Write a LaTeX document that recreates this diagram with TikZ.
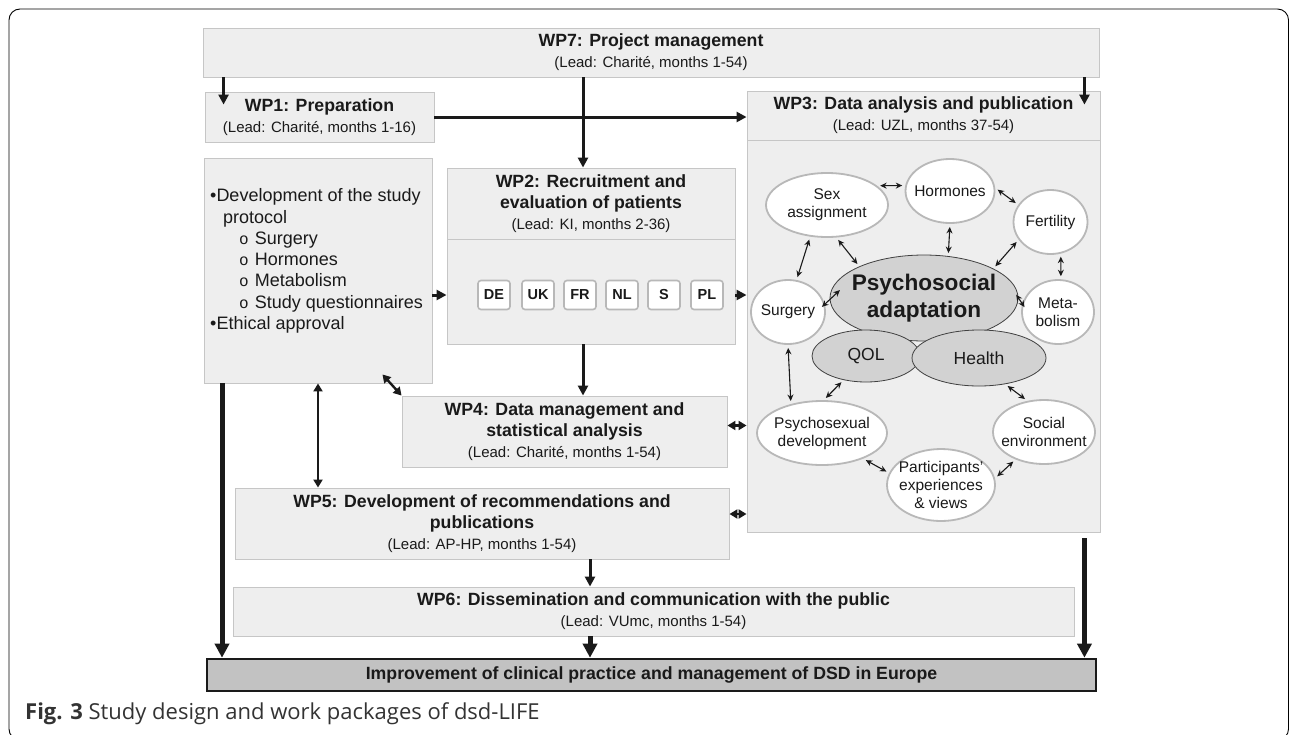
\documentclass[tikz,border=0pt]{standalone}
\usepackage{fontspec}
\setmainfont{Liberation Sans}
\newfontfamily\capfont{Open Sans}
\newfontfamily\ringfont{Liberation Mono}
\usetikzlibrary{shapes.geometric,arrows.meta,shadows}

\definecolor{boxfill}{HTML}{EEEEEE}
\definecolor{boxline}{HTML}{C6C6C6}
\definecolor{ringgray}{HTML}{B8B8B8}
\definecolor{coregray}{HTML}{D2D2D2}
\definecolor{goalfill}{HTML}{C2C2C2}
\definecolor{ink}{HTML}{1A1A1A}

\newcommand\wpfont{\fontsize{17.7}{21}\selectfont\bfseries}
\newcommand\lead[1]{{\fontsize{15}{21}\selectfont\mdseries #1}}
\newcommand\ringitem[1]{\hspace*{29pt}{\ringfont\fontsize{16}{21}\selectfont o}\hspace*{6pt}#1}

\tikzset{
  pkg/.style={draw=boxline, line width=0.9pt, fill=boxfill, inner sep=0pt,
    align=center, text=ink, font=\wpfont,
    drop shadow={shadow xshift=1.2pt, shadow yshift=-1.2pt, opacity=0.25, fill=black!60}},
  country/.style={draw=ringgray, line width=1.6pt, rounded corners=3pt, fill=white,
    minimum width=32pt, minimum height=29pt, inner sep=0pt,
    font=\fontsize{14.5}{16}\selectfont\bfseries, text=ink},
  topic/.style={ellipse, draw=ringgray, line width=1.8pt, fill=white, inner sep=-8pt,
    align=center, text=ink, font=\fontsize{15.5}{18}\selectfont},
  core/.style={ellipse, draw=black!75, line width=0.8pt, fill=coregray, inner sep=-8pt,
    align=center, text=ink, font=\fontsize{17.5}{21}\selectfont},
  flow/.style={line width=3pt, draw=ink, -{Triangle[length=10pt,width=10pt]}},
  bigflow/.style={line width=5pt, draw=ink, -{Triangle[length=14pt,width=14pt]}},
  both/.style={line width=2.4pt, draw=ink,
    {Triangle[length=8pt,width=9pt]}-{Triangle[length=8pt,width=9pt]}},
  link/.style={line width=1.1pt, draw=ink,
    {Stealth[length=6.5pt,width=6pt]}-{Stealth[length=6.5pt,width=6pt]},
    shorten <=3pt, shorten >=3pt},
}

\begin{document}
\begin{tikzpicture}[x=1pt,y=-1pt]
  \useasboundingbox (0,0) rectangle (1290,734);
  \draw [line width=0.9pt, rounded corners=11pt] (9,9) rectangle (1288.5,740);

  % work packages
  \node (wp7) [pkg, minimum width=896pt, minimum height=49pt] at (651,52.5)
    {WP7: Project management\\ \lead{(Lead: Charité, months 1-54)}};
  \node (wp1) [pkg, minimum width=229pt, minimum height=50pt] at (319.5,117)
    {WP1: Preparation\\ \lead{(Lead: Charité, months 1-16)}};
  \node (wp3b) [pkg, minimum width=353pt, minimum height=392pt] at (923.5,336) {};
  \node (wp3) [pkg, minimum width=353pt, minimum height=49pt] at (923.5,115.5)
    {WP3: Data analysis and publication\\ \lead{(Lead: UZL, months 37-54)}};
  \node (prep) [pkg, minimum width=228pt, minimum height=225pt] at (318,270.5) {};
  \node (preptext) [anchor=west, inner sep=0pt, align=left, text=ink,
    font=\fontsize{18}{21.3}\selectfont] at (210,261)
    {\textbullet Development of the study\\
     \hspace*{13pt}protocol\\
     \ringitem{Surgery}\\
     \ringitem{Hormones}\\
     \ringitem{Metabolism}\\
     \ringitem{Study questionnaires}\\
     \textbullet Ethical approval};
  \node (wp2b) [pkg, minimum width=288pt, minimum height=105pt] at (591,291.5) {};
  \node (wp2) [pkg, minimum width=288pt, minimum height=71pt] at (591,203.5)
    {WP2: Recruitment and\\ evaluation of patients\\ \lead{(Lead: KI, months 2-36)}};
  \node (wp4) [pkg, minimum width=325pt, minimum height=71pt] at (564.5,431.5)
    {WP4: Data management and\\ statistical analysis\\ \lead{(Lead: Charité, months 1-54)}};
  \node (wp5) [pkg, minimum width=494pt, minimum height=71pt] at (482,523.5)
    {WP5: Development of recommendations and\\ publications\\ \lead{(Lead: AP-HP, months 1-54)}};
  \node (wp6) [pkg, minimum width=841pt, minimum height=49pt] at (653.5,611.5)
    {WP6: Dissemination and communication with the public\\ \lead{(Lead: VUmc, months 1-54)}};
  \node (dsd) [draw=ink, line width=2.6pt, fill=goalfill, minimum width=889pt,
    minimum height=32pt, inner sep=0pt, text=ink, font=\wpfont] at (651.5,675)
    {Improvement of clinical practice and management of DSD in Europe};

  % recruiting centres
  \node (c1) [country] at (494,295) {DE};
  \node (c2) [country] at (538,295) {UK};
  \node (c3) [country] at (580,295) {FR};
  \node (c4) [country] at (622,295) {NL};
  \node (c5) [country] at (664,295) {S};
  \node (c6) [country] at (707,295) {PL};

  % analysis topics
  \node (sex) [topic, minimum width=122pt, minimum height=64pt] at (827,205) {Sex\\assignment};
  \node (horm) [topic, minimum width=89pt, minimum height=64pt] at (950,191) {Hormones};
  \node (fert) [topic, minimum width=74pt, minimum height=64pt] at (1050.5,222) {Fertility};
  \node (psych) [core, minimum width=188pt, minimum height=86pt,
    font=\fontsize{22.6}{27}\selectfont\bfseries] at (924,298) {Psychosocial\\adaptation};
  \node (surg) [topic, minimum width=74pt, minimum height=64pt] at (788,312) {Surgery};
  \node (metab) [topic, minimum width=72pt, minimum height=64pt] at (1058,312) {Meta-\\bolism};
  \node (qol) [core, minimum width=108pt, minimum height=52pt] at (866,356) {QOL};
  \node (health) [core, minimum width=134pt, minimum height=56pt] at (979,358) {Health};
  \node (psex) [topic, minimum width=130pt, minimum height=64pt] at (822,433) {Psychosexual\\development};
  \node (social) [topic, minimum width=102pt, minimum height=64pt] at (1044,432) {Social\\environment};
  \node (part) [topic, minimum width=108pt, minimum height=72pt] at (941,485)
    {Participants’\\experiences\\\& views};

  \draw [link] (sex.21) -- (horm.173);
  \draw [link] (horm.4) -- (fert.152);
  \draw [link] (sex.242) -- (surg.75);
  \draw [link] (sex.286) -- (psych.154);
  \draw [link] (horm.270) -- (psych.60);
  \draw [link] (fert.209) -- (psych.23);
  \draw [link] (fert.288) -- (metab.85);
  \draw [link, shorten <=-4pt, shorten >=-14pt] (surg.12) -- (psych.181);
  \draw [link, shorten <=-4pt, shorten >=-4pt] (psych.0) -- (metab.167);
  \draw [link] (surg.270) -- (psex.137);
  \draw [link] (qol.227) -- (psex.87);
  \draw [link] (health.315) -- (social.118);
  \draw [link] (psex.328) -- (part.167);
  \draw [link] (part.7) -- (social.224);

  % flows between packages
  \coordinate (j4) at ([yshift=6pt]wp4.east);
  \coordinate (j5) at ([yshift=9.5pt]wp5.east);
  \coordinate (r0) at ([xshift=-16pt,yshift=-6pt]wp3b.south east);

  \draw [flow] ([xshift=21pt]wp7.south west) -- ([xshift=19pt,yshift=-13pt]wp1.north west);
  \draw [flow] (583,0 |- wp7.south) -- (583,0 |- wp2.north);
  \draw [flow] ([xshift=-15pt]wp7.south east) -- ([xshift=-16pt,yshift=-14pt]wp3.north east);
  \draw [flow] (wp1.east) -- (wp1.east -| wp3.west);
  \draw [flow] (prep.east |- c1) -- (c1 -| wp2b.west);
  \draw [flow] (c6 -| wp2b.east) -- (c6 -| wp3b.west);
  \draw [flow] (583,0 |- wp2b.south) -- (583,0 |- wp4.north);
  \draw [both] ([xshift=-50pt,yshift=9pt]prep.south east) -- (wp4.north west);
  \draw [both] (prep.south) -- (prep.south |- wp5.north);
  \draw [both] (j4) -- (j4 -| wp3b.west);
  \draw [both] (j5) -- (j5 -| wp3b.west);
  \draw [flow] (590,0 |- wp5.south) -- (590,0 |- wp6.north);
  \draw [bigflow] (590,0 |- wp6.south) -- (590,0 |- dsd.north);
  \draw [bigflow] (222,0 |- prep.south) -- (222,0 |- dsd.north);
  \draw [bigflow] (r0) -- (r0 |- dsd.north);

  \node (caption) [anchor=west, inner sep=0pt, text=black!80,
    font=\capfont\fontsize{22}{26}\selectfont] at (25,714)
    {\textbf{Fig. 3} Study design and work packages of dsd-LIFE};
\end{tikzpicture}
\end{document}
